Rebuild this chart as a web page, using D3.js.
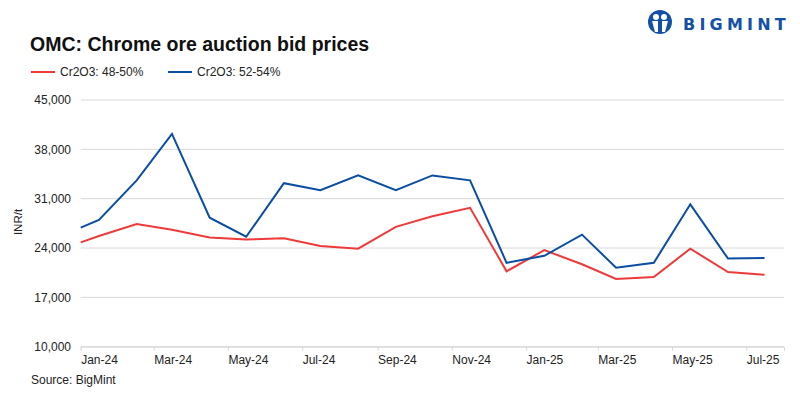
<!DOCTYPE html>
<html>
<head>
<meta charset="utf-8">
<script src="https://cdn.jsdelivr.net/npm/d3@7"></script>
<style>
  body { margin: 0; background: #fff; }
  svg { font-family: "Liberation Sans", Arial, sans-serif; }
</style>
</head>
<body>
<div id="viz"></div>
<script>
// data (INR/t)
var dates = ["2024-01-01", "2024-01-16", "2024-02-16", "2024-03-16", "2024-04-16", "2024-05-16",
             "2024-06-16", "2024-07-16", "2024-08-16", "2024-09-16", "2024-10-16", "2024-11-16",
             "2024-12-16", "2025-01-16", "2025-02-16", "2025-03-16", "2025-04-16", "2025-05-16",
             "2025-06-16", "2025-07-16"];
var low = [24800, 25700, 27400, 26600, 25500, 25200, 25400, 24300, 23900, 27000,
           28500, 29700, 20700, 23700, 21700, 19600, 19900, 23900, 20600, 20200];
var high = [26900, 28000, 33600, 40200, 28300, 25600, 33200, 32200, 34300, 32200,
            34300, 33600, 21900, 22900, 25900, 21200, 21900, 30200, 22500, 22600];
var yTicks = [10000, 17000, 24000, 31000, 38000, 45000];
var seriesNames = ["Cr2O3: 48-50%", "Cr2O3: 52-54%"];
var seriesColors = ["#ee3a3a", "#0a4ea2"];

var W = 800, H = 399;
var parse = d3.timeParse("%Y-%m-%d");

var svg = d3.select("#viz").append("svg")
  .attr("width", W)
  .attr("height", H);

var x = d3.scaleTime()
  .domain([new Date(2024, 0, 1), new Date(2025, 7, 1)])
  .range([80.7, 784]);

var y = d3.scaleLinear()
  .domain([10000, 45000])
  .range([346.7, 100]);

// title
svg.append("text")
  .attr("x", 30)
  .attr("y", 51)
  .style("font-size", "19.5px")
  .style("font-weight", "bold")
  .style("fill", "#111")
  .text("OMC: Chrome ore auction bid prices");

// logo
var logo = svg.append("g").attr("transform", "translate(660,22)");
logo.append("circle").attr("r", 12).style("fill", "#1450a8");
logo.append("circle").attr("cx", -4).attr("cy", -5).attr("r", 3).style("fill", "#fff");
logo.append("circle").attr("cx", 4).attr("cy", -5).attr("r", 3).style("fill", "#fff");
logo.append("path")
  .attr("d", "M-8,-1 L-2,-1 L-2,10 L-5,10 Z M8,-1 L2,-1 L2,10 L5,10 Z")
  .style("fill", "#fff");
svg.append("text")
  .attr("x", 683)
  .attr("y", 30)
  .style("font-family", "DejaVu Sans, sans-serif")
  .style("font-size", "16px")
  .style("font-weight", "bold")
  .style("letter-spacing", "4.2px")
  .style("fill", "#1450a8")
  .text("BIGMINT");

// legend
var legend = svg.selectAll(".legend")
  .data(seriesNames)
  .enter().append("g")
  .attr("class", "legend")
  .attr("transform", function(d, i) { return "translate(" + (31 + i * 137) + ",72)"; });
legend.append("line")
  .attr("x1", 0).attr("x2", 24)
  .style("stroke", function(d, i) { return seriesColors[i]; })
  .style("stroke-width", 2);
legend.append("text")
  .attr("x", 29)
  .attr("dy", "0.35em")
  .style("font-size", "12px")
  .style("fill", "#222")
  .text(function(d) { return d; });

// gridlines + y labels
svg.selectAll(".grid")
  .data(yTicks)
  .enter().append("line")
  .attr("class", "grid")
  .attr("x1", 80.7).attr("x2", 784)
  .attr("y1", function(d) { return y(d); })
  .attr("y2", function(d) { return y(d); })
  .style("stroke", "#d9d9d9")
  .style("stroke-width", 1);

svg.selectAll(".ylab")
  .data(yTicks)
  .enter().append("text")
  .attr("class", "ylab")
  .attr("x", 71)
  .attr("y", function(d) { return y(d); })
  .attr("dy", "0.35em")
  .attr("text-anchor", "end")
  .style("font-size", "12px")
  .style("fill", "#222")
  .text(d3.format(","));

svg.append("text")
  .attr("transform", "translate(22,222) rotate(-90)")
  .attr("text-anchor", "middle")
  .style("font-size", "11.5px")
  .style("fill", "#222")
  .text("INR/t");

// x axis
var xAxis = d3.axisBottom(x)
  .ticks(d3.timeMonth.every(2))
  .tickSize(4)
  .tickFormat(d3.timeFormat("%b-%y"));

var gx = svg.append("g")
  .attr("transform", "translate(0," + y(10000) + ")")
  .call(xAxis);
gx.select(".domain").style("stroke", "#d9d9d9");
gx.selectAll(".tick line").style("stroke", "#d9d9d9");
gx.selectAll(".tick text")
  .attr("text-anchor", "start")
  .attr("y", 9)
  .style("font-size", "12px")
  .style("font-family", "Liberation Sans, Arial, sans-serif")
  .style("fill", "#222");

// lines
var series = [low, high];
var line = d3.line()
  .x(function(d, i) { return x(parse(dates[i])); })
  .y(function(d) { return y(d); });

svg.selectAll(".series")
  .data(series)
  .enter().append("path")
  .attr("class", "series")
  .attr("d", line)
  .style("fill", "none")
  .style("stroke", function(d, i) { return seriesColors[i]; })
  .style("stroke-width", 2)
  .style("stroke-linejoin", "miter");

// source
svg.append("text")
  .attr("x", 31)
  .attr("y", 384)
  .style("font-size", "12px")
  .style("fill", "#222")
  .text("Source: BigMint");
</script>
</body>
</html>
